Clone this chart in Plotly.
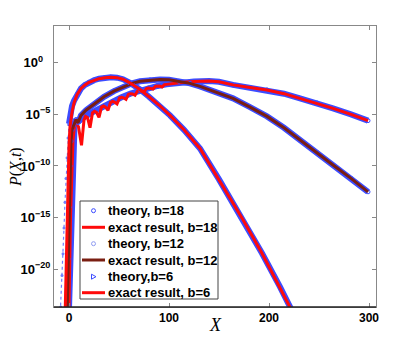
import plotly.graph_objects as go

# ---- data (log10 of P(X,t)) ----
x_b18 = [-1, 0, 1.5, 3, 4, 5.5, 7, 9.5, 12.5, 15, 16.5, 18.5, 21, 23.5, 25.5, 27.5, 30, 32.5, 34.5, 36.5,
         39, 41.5, 43.5, 45.5, 48, 50.5, 52.5, 54.5, 57, 59.5, 61.5, 63.5, 66, 68.5, 70.5, 72.5, 75, 77.5,
         79.5, 81.5, 84, 86.5, 88.5, 90.5, 93, 95.5, 97.5, 105, 115, 125, 140, 150, 164, 181, 198, 215,
         231, 248, 264, 282, 299]
logp_b18 = [-27, -23.6, -15, -9.5, -7.5, -6.1, -5.85, -6.2, -8.0, -5.55, -5.2, -5.3, -6.3, -4.85, -4.7, -4.8,
            -5.3, -4.3, -4.2, -4.3, -4.6, -3.85, -3.75, -3.82, -4.0, -3.42, -3.35, -3.4, -3.55, -3.05, -3.0,
            -3.03, -3.15, -2.75, -2.7, -2.72, -2.85, -2.5, -2.45, -2.47, -2.55, -2.28, -2.25, -2.27, -2.35,
            -2.12, -2.1, -2.0, -1.9, -1.82, -1.78, -1.85, -2.15, -2.4, -2.64, -3.0, -3.45, -3.9, -4.42, -5.0,
            -5.61]
x_th18 = [-1, 0, 1.5, 3, 4, 5.5, 7, 10, 16.5, 25.5, 34.5, 43.5, 52.5, 61.5, 70.5, 79.5, 88.5, 97.5, 105,
          115, 125, 140, 150, 164, 181, 198, 215, 231, 248, 264, 282, 299]
logp_th18 = [-27, -23.6, -15, -9.5, -7.5, -6.1, -5.85, -5.6, -5.2, -4.7, -4.2, -3.75, -3.35, -3.0, -2.7,
             -2.45, -2.25, -2.1, -2.0, -1.9, -1.82, -1.78, -1.85, -2.15, -2.4, -2.64, -3.0, -3.45, -3.9,
             -4.42, -5.0, -5.61]

x_b12 = [-2.5, -1.7, -1, 0, 1, 2, 3, 5, 7, 9, 12, 17, 25, 35, 45, 55, 63, 71, 81, 91, 100, 110, 121, 131,
         147, 164, 181, 198, 215, 231, 248, 264, 282, 299]
logp_b12 = [-27, -23.6, -19, -14, -10, -7.6, -6.5, -6.0, -5.5, -5.8, -5.1, -4.6, -4.0, -3.3, -2.75, -2.3,
            -2.0, -1.8, -1.68, -1.62, -1.65, -1.8, -2.0, -2.3, -2.85, -3.45, -4.3, -5.2, -6.3, -7.5, -8.7,
            -9.9, -11.2, -12.5]

x_b6 = [-4.5, -3.7, -3, -2, -1, 0, 1, 2, 3, 5, 8, 12, 16, 20, 25, 30, 36, 42, 48, 54, 60, 66, 71, 80, 90,
        101, 115, 131, 150, 174, 193, 211, 221, 226]
logp_b6 = [-27, -23.6, -19, -14, -10.5, -8.0, -6.2, -5.3, -4.8, -3.9, -3.1, -2.5, -2.15, -1.9, -1.7, -1.55,
           -1.45, -1.41, -1.45, -1.6, -1.9, -2.25, -2.6, -3.3, -4.1, -5.1, -6.5, -8.3, -11.3, -15.2, -18.45,
           -21.7, -23.65, -24.6]
# theory b=6 keeps going left of X=0 as a thin run of points
x_th6_tail = [-10, -8.3, -7, -6, -5, -4, -3, -2, -1, 0]
logp_th6_tail = [-27, -23.65, -20.6, -18.5, -16, -13.5, -11.2, -9.2, -7.3, -5.9]
x_th6 = [0, 1, 3, 5, 8, 12, 16, 20, 25, 30, 36, 42, 48, 54, 60, 66, 71, 80, 90,
         101, 115, 131, 150, 174, 193, 211, 221, 226]
logp_th6 = [-5.9, -5.0, -4.2, -3.7, -3.1, -2.5, -2.15, -1.9, -1.7,
            -1.55, -1.45, -1.41, -1.45, -1.6, -1.9, -2.25, -2.6, -3.3, -4.1, -5.1, -6.5, -8.3, -11.3, -15.2,
            -18.45, -21.7, -23.65, -24.6]

y_ticks = [0, -5, -10, -15, -20]
x_ticks = [0, 100, 200, 300]

legend_labels = ["theory, b=18", "exact result, b=18", "theory, b=12",
                 "exact result, b=12", "theory,b=6", "exact result, b=6"]

BLUE = "#3c4cff"
RED = "#ff0a0a"
DARKRED = "#7a1e12"


def p(vals):
    return [10 ** v for v in vals]


fig = go.Figure()

# blue bands of theory points (under the exact curves)
for xs, ys in [(x_th18, logp_th18), (x_b12, logp_b12), (x_th6, logp_th6)]:
    fig.add_trace(go.Scatter(x=xs, y=p(ys), mode="lines", showlegend=False, hoverinfo="skip",
                             line=dict(color=BLUE, width=6)))
fig.add_trace(go.Scatter(x=x_th6_tail, y=p(logp_th6_tail), mode="lines+markers", showlegend=False,
                         hoverinfo="skip", line=dict(color="#7080ff", width=1.2, dash="dot"),
                         marker=dict(size=3, color="#7080ff")))

theory = [(x_th18, logp_th18, "circle-open"), (x_b12, logp_b12, "circle-open"),
          (x_th6, logp_th6, "triangle-right-open")]
exact = [(x_b18, logp_b18, RED), (x_b12, logp_b12, DARKRED), (x_b6, logp_b6, RED)]

for i, ((tx, ty, sym), (ex, ey, lc)) in enumerate(zip(theory, exact)):
    fig.add_trace(go.Scatter(x=tx, y=p(ty), mode="markers", name=legend_labels[2 * i], showlegend=False,
                             marker=dict(symbol=sym, size=4, color=BLUE, line=dict(width=1, color=BLUE))))
    fig.add_trace(go.Scatter(x=ex, y=p(ey), mode="lines", name=legend_labels[2 * i + 1], showlegend=False,
                             line=dict(color=lc, width=3)))

axis_font = dict(family="Liberation Sans, Arial", size=12, color="black")


def ylab(t):
    s = str(t).replace("-", "\u2212")
    pad = "\u2007\u2005" if t == 0 else ""
    return "<b>10<sup>%s%s</sup></b>" % (s, pad)


fig.update_xaxes(range=[-15, 307], tickvals=x_ticks, ticktext=["<b>%d</b>" % t for t in x_ticks],
                 ticks="inside", ticklen=4, tickcolor="#888",
                 showline=True, linecolor="#888", mirror="ticks", showgrid=False, zeroline=False,
                 tickfont=axis_font)
fig.update_yaxes(type="log", range=[-23.65, 3.55], tickvals=[10 ** t for t in y_ticks],
                 ticktext=[ylab(t) for t in y_ticks],
                 ticks="inside", ticklen=4, tickcolor="#888", showline=True, linecolor="#888",
                 mirror="ticks", showgrid=False, zeroline=False, tickfont=dict(axis_font, size=13))

# darker bottom axis line
fig.add_shape(type="line", xref="paper", yref="paper", x0=0, x1=1, y0=0, y1=0,
              line=dict(color="#222", width=1.5), layer="above")

# ---- positions measured in window pixels; the page adds an 8px body margin ----
OFF = 8
L, R, T, B = 54, 376, 26, 307


def px(v):
    return (v - L) / (R - L)


def py(v):
    return (B - v) / (B - T)


fig.add_annotation(text="<i>X</i>", xref="paper", yref="paper", x=px(215), y=py(325),
                   showarrow=False, yanchor="middle",
                   font=dict(family="Liberation Serif, Times New Roman", size=18, color="black"))
fig.add_annotation(text="<i>P</i>(<i>X</i>,<i>t</i>)", xref="paper", yref="paper", x=px(16), y=py(167),
                   textangle=-90, showarrow=False, xanchor="center", yanchor="middle",
                   font=dict(family="Liberation Serif, Times New Roman", size=16, color="black"))

# hand-drawn legend box
fig.add_shape(type="rect", xref="paper", yref="paper", x0=px(80), x1=px(218), y0=py(201), y1=py(299),
              line=dict(color="#444", width=1), fillcolor="white", layer="above")
row_y = [210.7, 227.3, 243.7, 260, 276.7, 292.7]
for k, (lab, yy) in enumerate(zip(legend_labels, row_y)):
    fig.add_annotation(text="<b>%s</b>" % lab, xref="paper", yref="paper", x=px(106), y=py(yy),
                       xanchor="left", yanchor="middle", showarrow=False,
                       font=dict(family="Liberation Sans, Arial", size=13, color="black"))
    if k % 2 == 1:
        fig.add_shape(type="line", xref="paper", yref="paper", x0=px(82), x1=px(105), y0=py(yy), y1=py(yy),
                      line=dict(color=exact[k // 2][2], width=3), layer="above")
    elif k < 4:
        fig.add_shape(type="circle", xref="paper", yref="paper", x0=px(91.5), x1=px(95.5),
                      y0=py(yy + 2), y1=py(yy - 2), layer="above",
                      line=dict(color=BLUE if k == 0 else "#8f9cf2", width=1))
    else:
        fig.add_shape(type="path", xref="paper", yref="paper", layer="above",
                      path="M %f,%f L %f,%f L %f,%f Z" % (px(91.5), py(yy - 2.5), px(91.5), py(yy + 2.5),
                                                          px(96), py(yy)),
                      line=dict(color=BLUE, width=1))

W, H = 415 - OFF, 346 - OFF
fig.update_layout(
    width=W, height=H,
    margin=dict(l=L - OFF, r=W - (R - OFF), t=T - OFF, b=H - (B - OFF)),
    plot_bgcolor="white", paper_bgcolor="white",
    showlegend=False,
)

fig.write_html("out.html")
